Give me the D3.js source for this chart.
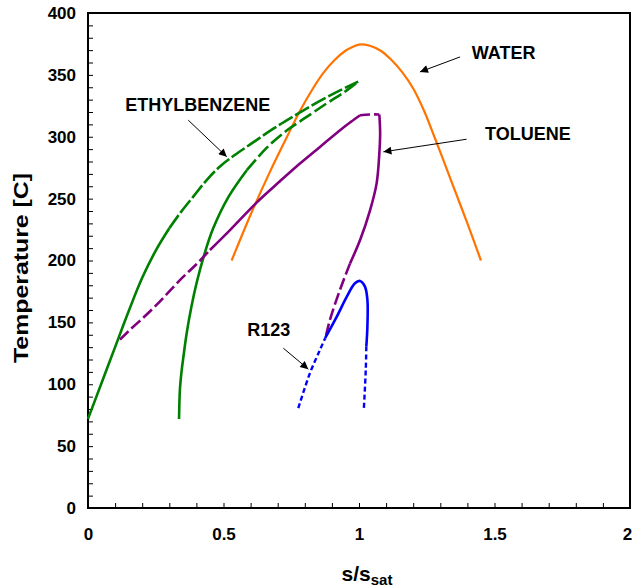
<!DOCTYPE html>
<html>
<head>
<meta charset="utf-8">
<script src="https://cdn.jsdelivr.net/npm/d3@7"></script>
<style>
  body { margin: 0; background: #fff; }
  svg text { font-family: Arial, "Liberation Sans", sans-serif; font-weight: bold; fill: #000; }
</style>
</head>
<body>
<svg id="chart" width="632" height="587"></svg>
<script>
// T-s saturation domes, entropy normalised by the saturated-vapour value
var waterCurve = [[0.53, 200], [0.60, 237], [0.67, 271], [0.73, 298], [0.78, 320], [0.83, 339],
    [0.87, 352], [0.91, 362], [0.95, 369.5], [0.98, 373], [1.0, 374.5], [1.04, 373.5], [1.08, 369.5],
    [1.12, 362], [1.16, 352], [1.20, 339], [1.24, 321], [1.28, 299], [1.32, 276], [1.36, 253],
    [1.40, 230], [1.45, 200]];

var ethylOuterSolid = [[0, 72], [0.05, 101], [0.10, 130], [0.15, 159], [0.20, 186], [0.25, 208],
    [0.30, 226]];
var ethylOuterDashed = [[0.30, 226], [0.339, 238], [0.39, 252], [0.438, 265], [0.487, 276],
    [0.54, 285], [0.60, 294], [0.684, 306.5], [0.77, 318], [0.856, 329], [0.93, 337.5], [0.997, 344.5]];
var ethylInnerSolid = [[0.336, 72], [0.339, 95], [0.345, 110], [0.352, 122], [0.364, 141],
    [0.381, 162], [0.402, 183], [0.428, 204], [0.462, 226], [0.52, 252], [0.586, 273]];
var ethylInnerDashed = [[0.586, 273], [0.659, 291], [0.733, 305], [0.807, 316], [0.881, 327],
    [0.942, 335.5], [0.997, 344.5]];

var tolueneLowDashed = [[0.118, 136], [0.15, 143], [0.20, 153], [0.25, 163.5], [0.30, 175],
    [0.35, 186.5], [0.40, 197], [0.45, 208.5]];
var tolueneSolid = [[0.45, 208.5], [0.524, 224.6], [0.623, 247], [0.708, 264], [0.782, 278.4],
    [0.856, 291.8], [0.93, 305.3], [0.97, 312], [1.004, 317.4]];
var tolueneTop = [[1.004, 317.4], [1.04, 318], [1.075, 318]];
var tolueneRightSolid = [[1.075, 318], [1.078, 303], [1.075, 286.5], [1.065, 262.3], [1.041, 240.7],
    [1.004, 216.5], [0.967, 197.7]];
var tolueneRightDashed = [[0.967, 197.7], [0.93, 176.4], [0.893, 152.2], [0.875, 136]];

var r123LeftDashed = [[0.776, 80.7], [0.819, 109], [0.856, 127.8], [0.875, 137.2]];
var r123Solid = [[0.875, 137.2], [0.918, 154.6], [0.955, 170.8], [0.985, 181.6], [1.004, 183.5],
    [1.022, 178.9], [1.031, 168.1], [1.031, 146.6], [1.027, 130.4]];
var r123RightDashed = [[1.027, 130.4], [1.025, 111.7], [1.018, 80.7]];

// label text, text anchor point, arrow tail, arrow tip (data units)
var labelNames = ["WATER", "TOLUENE", "ETHYLBENZENE", "R123"];
var labelAt = [[1.416, 363.2], [1.465, 297.3], [0.137, 320.9], [0.588, 139]];
var arrowFrom = [[1.373, 364.5], [1.397, 298], [0.370, 313.4], [0.721, 129.1]];
var arrowTo = [[1.225, 352.4], [1.09, 287.8], [0.512, 283.8], [0.813, 112.2]];

var xTicks = [0, 0.5, 1, 1.5, 2];
var yTicks = [0, 50, 100, 150, 200, 250, 300, 350, 400];

var margin = { top: 13, right: 2, bottom: 79, left: 88 },
    width = 542,
    height = 495;

var svg = d3.select("#chart");
var g = svg.append("g")
    .attr("transform", "translate(" + margin.left + "," + margin.top + ")");

var x = d3.scaleLinear().domain([0, 2]).range([0, width]);
var y = d3.scaleLinear().domain([0, 400]).range([height, 0]);

// minor ticks every 0.1 / 10 deg, drawn inward
var xAxis = d3.axisBottom(x)
    .tickValues(d3.range(0, 2.0001, 0.1))
    .tickSize(-5)
    .tickPadding(20)
    .tickFormat(function (d) {
        var hit = xTicks.find(function (t) { return Math.abs(t - d) < 1e-6; });
        return hit === undefined ? "" : d3.format("")(hit);
    });

var yAxis = d3.axisLeft(y)
    .tickValues(d3.range(0, 401, 10))
    .tickSize(-5)
    .tickPadding(12)
    .tickFormat(function (d) { return yTicks.indexOf(d) >= 0 ? d : ""; });

var gx = g.append("g")
    .attr("transform", "translate(0," + height + ")")
    .call(xAxis)
    .call(function (a) { a.select(".domain").remove(); });

g.append("g")
    .call(yAxis)
    .call(function (a) { a.select(".domain").remove(); });

g.selectAll(".tick line").attr("stroke", "#000").attr("stroke-width", 1);
g.selectAll(".tick text").style("font-size", "17px");
// last label sits at the window edge; pull it in a touch
gx.selectAll(".tick text").filter(function (d) { return Math.abs(d - 2) < 1e-6; })
    .attr("dx", -3);

// plot frame
g.append("rect")
    .attr("width", width)
    .attr("height", height)
    .attr("fill", "none")
    .attr("stroke", "#000")
    .attr("stroke-width", 2);

var line = d3.line()
    .x(function (d) { return x(d[0]); })
    .y(function (d) { return y(d[1]); })
    .curve(d3.curveCatmullRom.alpha(0.5));

var series = [
    { data: waterCurve, color: "#ff7400", width: 2.2, dash: null },
    { data: ethylOuterSolid, color: "#008000", width: 2.6, dash: null },
    { data: ethylOuterDashed, color: "#008000", width: 2.6, dash: "16,3" },
    { data: ethylInnerSolid, color: "#008000", width: 2.6, dash: null },
    { data: ethylInnerDashed, color: "#008000", width: 2.6, dash: "14,4" },
    { data: tolueneLowDashed, color: "#800080", width: 2.6, dash: "12,4" },
    { data: tolueneSolid, color: "#800080", width: 2.6, dash: null },
    { data: tolueneTop, color: "#800080", width: 2.6, dash: "10,4" },
    { data: tolueneRightSolid, color: "#800080", width: 2.6, dash: null },
    { data: tolueneRightDashed, color: "#800080", width: 2.6, dash: "12,4" },
    { data: r123LeftDashed, color: "#0000ff", width: 2.4, dash: "5,3" },
    { data: r123Solid, color: "#0000ff", width: 2.6, dash: null },
    { data: r123RightDashed, color: "#0000ff", width: 2.4, dash: "5,3" }
];

g.selectAll(".curve")
    .data(series)
    .enter()
    .append("path")
    .attr("class", "curve")
    .attr("d", function (d) { return line(d.data); })
    .attr("fill", "none")
    .attr("stroke", function (d) { return d.color; })
    .attr("stroke-width", function (d) { return d.width; })
    .attr("stroke-dasharray", function (d) { return d.dash; });

// arrowheads for the fluid labels
svg.append("defs").append("marker")
    .attr("id", "head")
    .attr("viewBox", "0 0 10 10")
    .attr("refX", 10)
    .attr("refY", 5)
    .attr("markerWidth", 11)
    .attr("markerHeight", 8)
    .attr("markerUnits", "userSpaceOnUse")
    .attr("orient", "auto")
    .append("path")
    .attr("d", "M0,0L10,5L0,10z")
    .attr("fill", "#000");

g.selectAll(".arrow")
    .data(labelNames)
    .enter()
    .append("line")
    .attr("class", "arrow")
    .attr("x1", function (d, i) { return x(arrowFrom[i][0]); })
    .attr("y1", function (d, i) { return y(arrowFrom[i][1]); })
    .attr("x2", function (d, i) { return x(arrowTo[i][0]); })
    .attr("y2", function (d, i) { return y(arrowTo[i][1]); })
    .attr("stroke", "#000")
    .attr("stroke-width", 1)
    .attr("marker-end", "url(#head)");

g.selectAll(".fluid")
    .data(labelNames)
    .enter()
    .append("text")
    .attr("class", "fluid")
    .attr("x", function (d, i) { return x(labelAt[i][0]); })
    .attr("y", function (d, i) { return y(labelAt[i][1]); })
    .style("font-size", "18px")
    .text(function (d) { return d; });

// axis titles
svg.append("text")
    .attr("transform", "translate(28,268) rotate(-90)")
    .attr("text-anchor", "middle")
    .attr("textLength", 190)
    .attr("lengthAdjust", "spacingAndGlyphs")
    .style("font-size", "21px")
    .text("Temperature [C]");

var xt = svg.append("text")
    .attr("x", margin.left + x(1) + 8)
    .attr("y", 581)
    .attr("text-anchor", "middle")
    .style("font-size", "21px");
xt.append("tspan").text("s/s");
xt.append("tspan").attr("dy", 4).style("font-size", "15px").text("sat");
</script>
</body>
</html>
